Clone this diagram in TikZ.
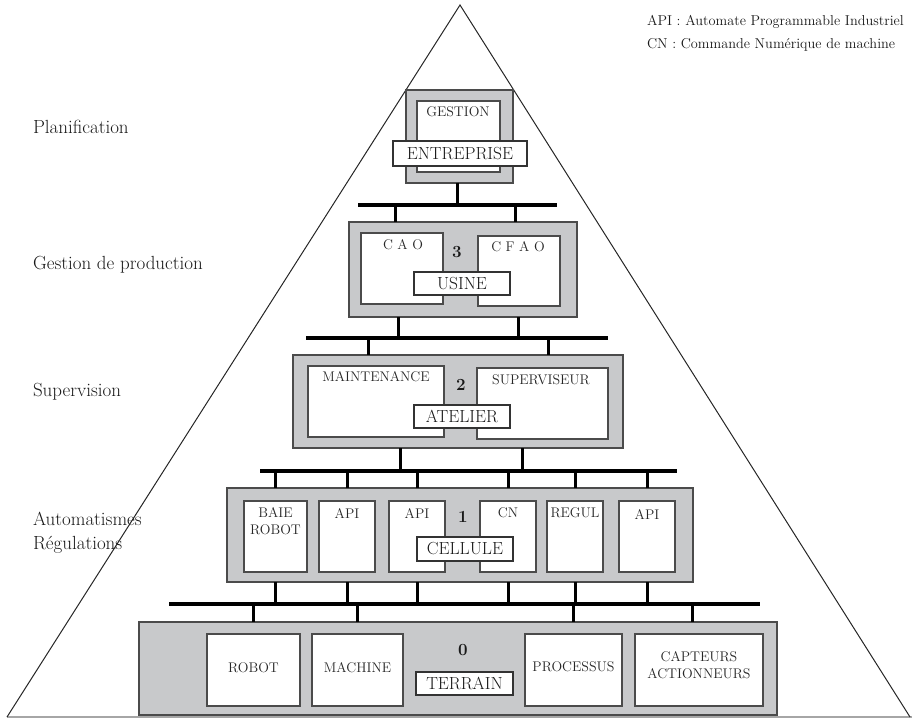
\documentclass[tikz,border=0pt]{standalone}
\usepackage{tikz}
\definecolor{boxgray}{RGB}{200,201,203}
\definecolor{edge}{RGB}{75,75,75}
\begin{document}
\begin{tikzpicture}[x = 1pt, y = -1pt,
        every node/.style={inner sep=0pt, outer sep=0pt}
]
\tikzstyle{frame}= [draw=edge, line width=1.4pt, fill=boxgray]
\tikzstyle{block}= [draw=edge, line width=1.2pt, fill=white]
\tikzstyle{tag}= [draw=black!80, line width=1.2pt, fill=white, minimum height=23, text=black!90, font=\fontsize{17.5}{20}\selectfont]
\tikzstyle{txt}= [text=black!85, align=center, font=\fontsize{14}{17}\selectfont]
\tikzstyle{level}= [text=black!90, font=\fontsize{17}{20}\selectfont\bfseries]
\tikzstyle{side}= [text=black!90, anchor=west, align=left, font=\fontsize{19}{24}\selectfont]
\tikzstyle{bus}= [line width=3.6pt]
\tikzstyle{stub}= [line width=3pt]
    \useasboundingbox (0,0) rectangle (912,719);

    % pyramide
    \coordinate (apex) at (460,5);
    \coordinate (baseW) at (7,717);
    \coordinate (baseE) at (910,717);
    \draw[black!35, line width=1.5pt] (baseW) -- (912,717);
    \draw[black!85, line width=1pt] (baseW) -- (apex) -- (baseE);

    % niveaux
    \node[side] (planif) at (33,127) {Planification};
    \node[side] (gprod) at (33,265) {Gestion de production};
    \node[side] (superv) at (33,392) {Supervision};
    \node[side] (autom) at (33,533) {Automatismes\\R\'egulations};
    \node[side, font=\fontsize{14.3}{23}\selectfont] (legend) at (647,33.5) {API : Automate Programmable Industriel\\CN : Commande Num\'erique de machine};

    % entreprise
    \node[frame, minimum width=107, minimum height=93] (ent) at (459.5,136.5) {};
    \node[block, minimum width=83, minimum height=71] (gest) at (458.5,136.5) {};
    \node[txt] (tgest) at (458,112) {GESTION};
    \node[tag, minimum width=134, minimum height=25] (entreprise) at (460,153.5) {ENTREPRISE};

    % usine
    \node[frame, minimum width=228, minimum height=95] (usine) at (463,269.5) {};
    \node[block, minimum width=82, minimum height=71] (cao) at (402,268.5) {};
    \node[block, minimum width=82, minimum height=70] (cfao) at (519,271) {};
    \node[txt] (tcao) at (403,245) {C A O};
    \node[txt] (tcfao) at (518,247) {C F A O};
    \node[level] (n3) at (457,252) {3};
    \node[tag, minimum width=96] (tusine) at (462,283.5) {USINE};

    % atelier
    \node[frame, minimum width=330, minimum height=93] (atelier) at (458,401.5) {};
    \node[block, minimum width=136, minimum height=71] (maint) at (376,401.5) {};
    \node[block, minimum width=131, minimum height=71] (sup) at (542.5,403.5) {};
    \node[txt] (tmaint) at (376,377) {MAINTENANCE};
    \node[txt] (tsup) at (541,380) {SUPERVISEUR};
    \node[level] (n2) at (461,385) {2};
    \node[tag, minimum width=96] (tatelier) at (462,416.5) {ATELIER};

    % cellule
    \node[frame, minimum width=466, minimum height=94] (cellule) at (460,535) {};
    \node[block, minimum width=63, minimum height=71] (baie) at (275.5,536.5) {};
    \node[block, minimum width=56, minimum height=71] (apiA) at (347,536.5) {};
    \node[block, minimum width=56, minimum height=71] (apiB) at (417,536.5) {};
    \node[block, minimum width=56, minimum height=71] (cn) at (508,536.5) {};
    \node[block, minimum width=56, minimum height=71] (regul) at (575,536.5) {};
    \node[block, minimum width=56, minimum height=71] (apiC) at (647,536.5) {};
    \node[txt] (tbaie) at (275.5,521.5) {BAIE\\ROBOT};
    \node[txt] (tapiA) at (347,513) {API};
    \node[txt] (tapiB) at (417,513) {API};
    \node[txt] (tcn) at (508,513) {CN};
    \node[txt] (tregul) at (575,513) {REGUL};
    \node[txt] (tapiC) at (647,514) {API};
    \node[level] (n1) at (463,517) {1};
    \node[tag, minimum width=96, minimum height=24] (tcellule) at (465,549) {CELLULE};

    % terrain
    \node[frame, minimum width=638, minimum height=93] (terrain) at (458,668.5) {};
    \node[block, minimum width=93, minimum height=72] (robot) at (253.5,670) {};
    \node[block, minimum width=91, minimum height=72] (machine) at (357.5,670) {};
    \node[block, minimum width=97, minimum height=72] (proc) at (573.5,670) {};
    \node[block, minimum width=128, minimum height=72] (capt) at (699,670) {};
    \node[txt] (trobot) at (253.5,668) {ROBOT};
    \node[txt] (tmachine) at (357.5,668) {MACHINE};
    \node[txt] (tproc) at (573.5,667) {PROCESSUS};
    \node[txt] (tcapt) at (699,665.5) {CAPTEURS\\ACTIONNEURS};
    \node[level] (n0) at (463,650) {0};
    \node[tag, minimum width=97] (tterrain) at (464.5,683.5) {TERRAIN};

    % bus
    \coordinate (busA) at (358,205);  \coordinate (busAe) at (557,205);
    \coordinate (busB) at (306,338);  \coordinate (busBe) at (608,338);
    \coordinate (busC) at (260,471);  \coordinate (busCe) at (677,471);
    \coordinate (busD) at (169,604);  \coordinate (busDe) at (760,604);
    \draw[bus] (busA) -- (busAe);
    \draw[bus] (busB) -- (busBe);
    \draw[bus] (busC) -- (busCe);
    \draw[bus] (busD) -- (busDe);

    \draw[stub] (ent.south -| 457,0) -- (busA -| 457,0);
    \draw[stub] (busA -| 395,0) -- (usine.north -| 395,0);
    \draw[stub] (busA -| 515,0) -- (usine.north -| 515,0);

    \draw[stub] (usine.south -| 398,0) -- (busB -| 398,0);
    \draw[stub] (usine.south -| 518,0) -- (busB -| 518,0);
    \draw[stub] (busB -| 368,0) -- (atelier.north -| 368,0);
    \draw[stub] (busB -| 548,0) -- (atelier.north -| 548,0);

    \draw[stub] (atelier.south -| 400,0) -- (busC -| 400,0);
    \draw[stub] (atelier.south -| 522,0) -- (busC -| 522,0);
    \draw[stub] (busC -| baie) -- (cellule.north -| baie);
    \draw[stub] (busC -| apiA) -- (cellule.north -| apiA);
    \draw[stub] (busC -| apiB) -- (cellule.north -| apiB);
    \draw[stub] (busC -| cn) -- (cellule.north -| cn);
    \draw[stub] (busC -| regul) -- (cellule.north -| regul);
    \draw[stub] (busC -| apiC) -- (cellule.north -| apiC);

    \draw[stub] (cellule.south -| baie) -- (busD -| baie);
    \draw[stub] (cellule.south -| apiA) -- (busD -| apiA);
    \draw[stub] (cellule.south -| apiB) -- (busD -| apiB);
    \draw[stub] (cellule.south -| cn) -- (busD -| cn);
    \draw[stub] (cellule.south -| regul) -- (busD -| regul);
    \draw[stub] (cellule.south -| apiC) -- (busD -| apiC);
    \draw[stub] (busD -| robot) -- (terrain.north -| robot);
    \draw[stub] (busD -| machine) -- (terrain.north -| machine);
    \draw[stub] (busD -| proc) -- (terrain.north -| proc);
    \draw[stub] (busD -| 692,0) -- (terrain.north -| 692,0);

\end{tikzpicture}
\end{document}
